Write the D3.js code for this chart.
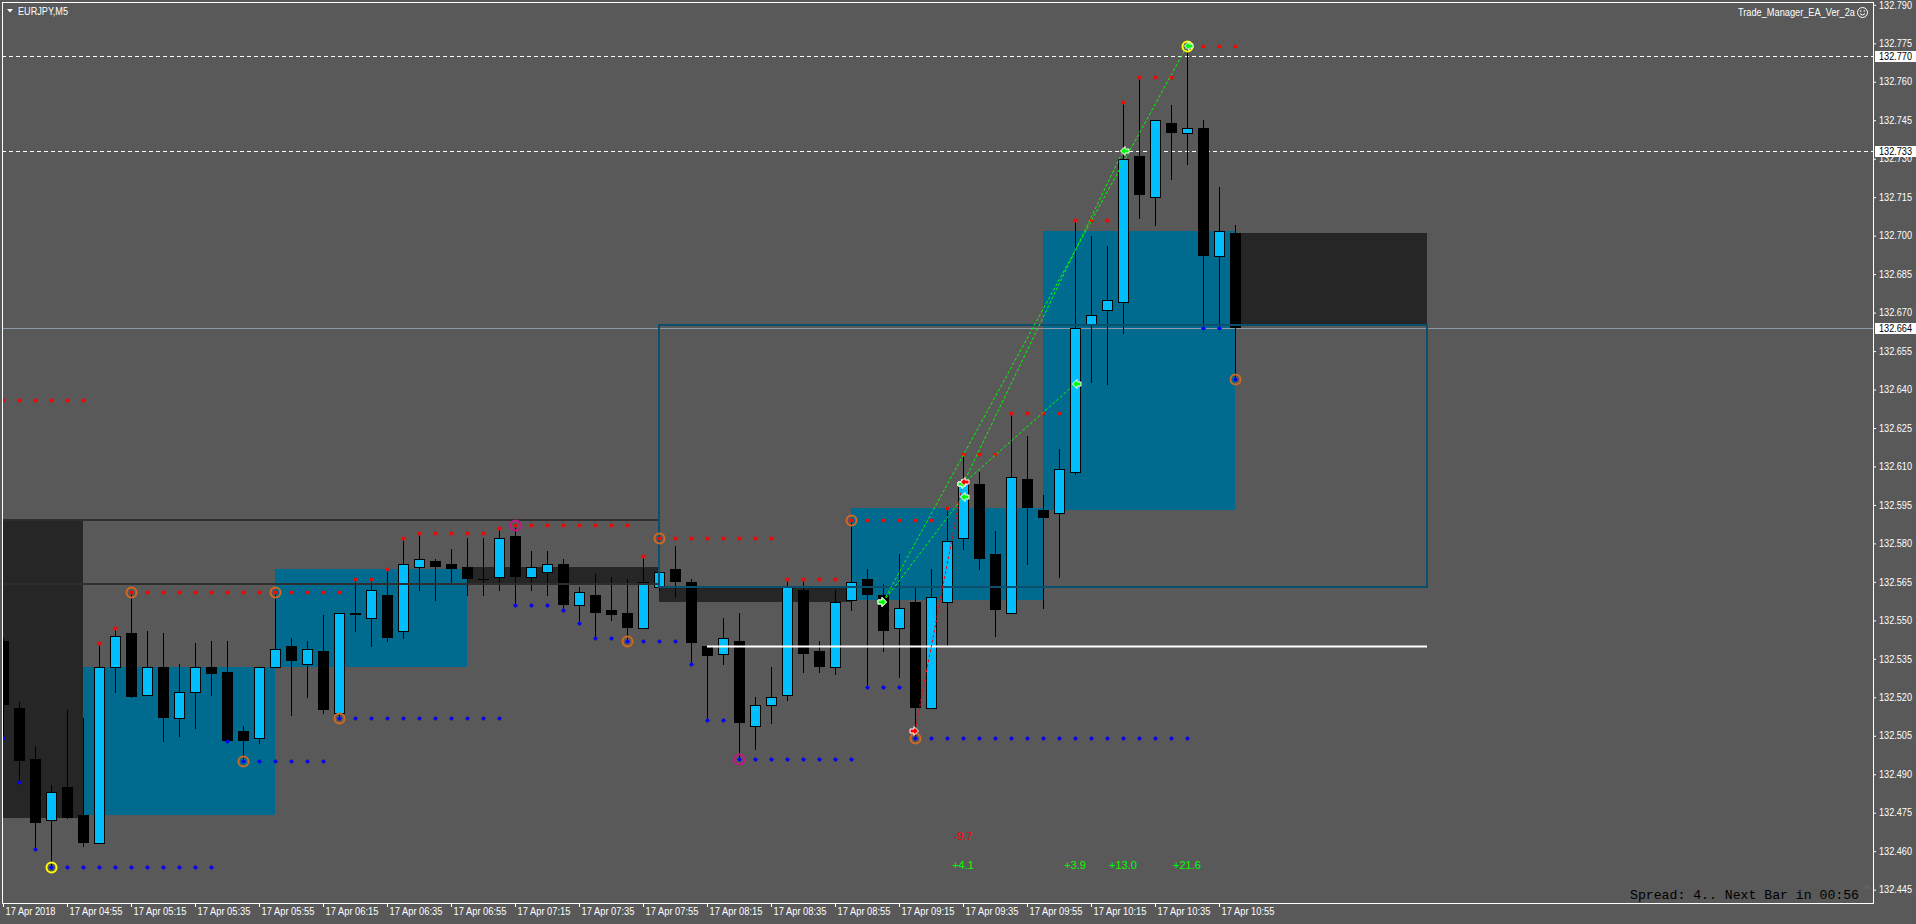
<!DOCTYPE html>
<meta charset="utf-8">
<script src="https://cdn.jsdelivr.net/npm/d3@7"></script>
<style>
  body { margin: 0; background: #595959; overflow: hidden; }
  text { font-family: "Liberation Sans", Arial, sans-serif; }
</style>
<body>
<script>

// ---- candles, EURJPY M5, bar 0 = 17 Apr 04:35 ----
var open  = [132.542,132.516,132.496,132.472,132.485,132.474,132.463,132.532,132.545,132.521,
             132.532,132.512,132.522,132.532,132.530,132.507,132.504,132.532,132.540,132.533,
             132.538,132.514,132.553,132.551,132.560,132.546,132.571,132.573,132.572,132.571,
             132.566,132.567,132.583,132.567,132.569,132.572,132.556,132.560,132.554,132.553,
             132.547,132.563,132.570,132.565,132.540,132.537,132.542,132.509,132.517,132.521,
             132.562,132.538,132.532,132.558,132.566,132.560,132.547,132.557,132.516,132.557,
             132.582,132.603,132.576,132.553,132.605,132.593,132.592,132.608,132.665,132.671,
             132.674,132.731,132.715,132.744,132.740,132.742,132.692,132.701];
var high  = [132.543,132.518,132.501,132.486,132.515,132.512,132.541,132.547,132.561,132.546,
             132.545,132.533,132.541,132.542,132.542,132.509,132.532,132.561,132.543,132.542,
             132.552,132.553,132.566,132.566,132.570,132.582,132.584,132.574,132.578,132.582,
             132.582,132.586,132.587,132.577,132.577,132.574,132.563,132.568,132.567,132.566,
             132.575,132.571,132.579,132.566,132.540,132.551,132.553,132.520,132.532,132.566,
             132.566,132.542,132.562,132.589,132.570,132.564,132.576,132.563,132.570,132.594,
             132.615,132.608,132.585,132.631,132.622,132.599,132.617,132.706,132.700,132.696,
             132.752,132.762,132.745,132.751,132.774,132.745,132.719,132.704];
var low   = [132.505,132.487,132.461,132.454,132.473,132.462,132.463,132.522,132.520,132.521,
             132.503,132.505,132.508,132.521,132.503,132.495,132.502,132.532,132.513,132.520,
             132.514,132.512,132.546,132.540,132.542,132.543,132.562,132.558,132.565,132.560,
             132.560,132.562,132.556,132.562,132.560,132.554,132.549,132.543,132.550,132.542,
             132.547,132.562,132.559,132.533,132.511,132.533,132.496,132.500,132.510,132.519,
             132.530,132.530,132.529,132.554,132.524,132.538,132.528,132.504,132.516,132.540,
             132.578,132.570,132.544,132.553,132.572,132.555,132.567,132.607,132.643,132.642,
             132.662,132.707,132.704,132.722,132.728,132.665,132.665,132.645];
var close = [132.517,132.495,132.471,132.483,132.473,132.463,132.532,132.544,132.520,132.532,
             132.512,132.522,132.532,132.529,132.503,132.503,132.532,132.539,132.534,132.539,
             132.515,132.553,132.552,132.562,132.543,132.572,132.574,132.571,132.570,132.566,
             132.566,132.582,132.567,132.571,132.572,132.556,132.561,132.553,132.552,132.547,
             132.565,132.569,132.565,132.541,132.536,132.543,132.510,132.517,132.520,132.563,
             132.537,132.532,132.557,132.565,132.560,132.546,132.555,132.516,132.559,132.581,
             132.604,132.574,132.554,132.606,132.594,132.590,132.609,132.664,132.669,132.675,
             132.730,132.716,132.745,132.740,132.742,132.692,132.702,132.664];

// axis labels
var timeTickBars = [0,4,8,12,16,20,24,28,32,36,40,44,48,52,56,60,64,68,72,76];
var timeTickLabels = ["17 Apr 2018","17 Apr 04:55","17 Apr 05:15","17 Apr 05:35","17 Apr 05:55",
  "17 Apr 06:15","17 Apr 06:35","17 Apr 06:55","17 Apr 07:15","17 Apr 07:35","17 Apr 07:55",
  "17 Apr 08:15","17 Apr 08:35","17 Apr 08:55","17 Apr 09:15","17 Apr 09:35","17 Apr 09:55",
  "17 Apr 10:15","17 Apr 10:35","17 Apr 10:55"];
var priceTicks = [132.445,132.460,132.475,132.490,132.505,132.520,132.535,132.550,132.565,132.580,
  132.595,132.610,132.625,132.640,132.655,132.670,132.685,132.700,132.715,132.730,132.745,
  132.760,132.775,132.790];

// fractal level dots: [first bar, last bar, price]
var resistRows = [[0,5,132.636],[6,6,132.541],[7,7,132.547],[8,21,132.561],[22,23,132.566],
  [24,24,132.570],[25,25,132.582],[26,30,132.584],[31,31,132.586],[32,39,132.587],[40,40,132.575],
  [41,48,132.582],[49,52,132.566],[53,58,132.589],[59,59,132.594],[60,62,132.615],[63,66,132.631],
  [67,69,132.706],[70,70,132.752],[71,73,132.762],[74,77,132.774]];
var supportRows = [[0,0,132.504],[1,1,132.487],[2,2,132.461],[3,13,132.454],[14,14,132.503],
  [15,20,132.495],[21,31,132.512],[32,34,132.556],[35,35,132.554],[36,36,132.549],[37,38,132.543],
  [39,42,132.542],[43,43,132.533],[44,45,132.511],[46,53,132.496],[54,56,132.524],[57,74,132.504],
  [75,76,132.664],[77,77,132.644]];

// circled fractals: [bar, price]
var orangeMarks  = [[8,132.561],[17,132.561],[15,132.495],[21,132.512],[39,132.542],[41,132.582],
                    [53,132.589],[57,132.504],[77,132.644]];
var magentaMarks = [[32,132.587],[46,132.496]];
var yellowMarks  = [[3,132.454],[74,132.774]];

// zones: [bar from, bar to, top price, bottom price]
var tealZones  = [[5,17,132.532,132.474],[17,29,132.570,132.532],[53,65,132.594,132.558],[65,77,132.702,132.593]];
var darkZones  = [[-2,5,132.589,132.473],[29,41,132.571,132.564],[41,53,132.563,132.557],[77,89,132.701,132.665]];
var darkFrames = [[-2,41,132.589,132.564]];
var tealFrames = [[41,89,132.665,132.563]];
var whiteLevel = [44,89,132.540];
var dashedLevels = [132.770,132.733];
var bidPrice = 132.664;

// trades
var tradeType    = ["buy","buy","buy","buy","sell"];
var entryBar     = [55,55,60,60,57];
var entryPrice   = [132.557,132.557,132.603,132.603,132.507];
var exitBar      = [74,60,70,67,60];
var exitPrice    = [132.774,132.598,132.733,132.642,132.604];
var tradeProfit  = [21.6,4.1,13.0,3.9,-9.7];

// ---- canvas ----
var W = 1916, H = 924;
var plot = {left: 2, top: 2, right: 1873, bottom: 903};

var svg = d3.select("body").append("svg")
    .attr("width", W).attr("height", H)
    .style("display", "block");

svg.append("rect").attr("width", W).attr("height", H).attr("fill", "#595959");

svg.append("clipPath").attr("id", "plotclip")
  .append("rect")
    .attr("x", plot.left).attr("y", plot.top)
    .attr("width", plot.right - plot.left).attr("height", plot.bottom - plot.top);

var x = d3.scaleLinear().domain([0, 77]).range([3.3, 1235.3]);
var y = d3.scaleLinear().domain([132.4398, 132.7911]).range([plot.bottom, plot.top]);
var cx = function(i) { return Math.round(x(i)); };
var py = function(p) { return Math.round(y(p)); };

var g = svg.append("g").attr("clip-path", "url(#plotclip)");

// filled zones
function zones(data, color) {
  g.selectAll(null).data(data).enter().append("rect")
    .attr("x", function(d) { return cx(d[0]); })
    .attr("y", function(d) { return py(d[2]); })
    .attr("width", function(d) { return cx(d[1]) - cx(d[0]); })
    .attr("height", function(d) { return py(d[3]) - py(d[2]); })
    .attr("fill", color);
}
zones(tealZones, "#006a8f");
zones(darkZones, "#262626");

// dashed levels and bid line
g.selectAll(null).data(dashedLevels).enter().append("line")
  .attr("x1", plot.left).attr("x2", plot.right)
  .attr("y1", function(d) { return py(d) + 0.5; })
  .attr("y2", function(d) { return py(d) + 0.5; })
  .attr("stroke", "#fff").attr("stroke-dasharray", "4,3");

g.append("line")
  .attr("x1", plot.left).attr("x2", plot.right)
  .attr("y1", py(bidPrice) + 0.5).attr("y2", py(bidPrice) + 0.5)
  .attr("stroke", "#8d9aa8");

// candles
var bars = d3.range(open.length);
var candle = g.selectAll(".candle").data(bars).enter().append("g").attr("class", "candle");

candle.append("line")
  .attr("x1", function(i) { return cx(i) + 0.5; })
  .attr("x2", function(i) { return cx(i) + 0.5; })
  .attr("y1", function(i) { return py(high[i]); })
  .attr("y2", function(i) { return py(low[i]) + 1; })
  .attr("stroke", "#000");

candle.append("rect")
  .attr("x", function(i) { return close[i] > open[i] ? cx(i) - 4.5 : cx(i) - 5; })
  .attr("y", function(i) { return py(Math.max(open[i], close[i])) + (close[i] > open[i] ? 0.5 : 0); })
  .attr("width", function(i) { return close[i] > open[i] ? 10 : 11; })
  .attr("height", function(i) {
    return Math.max(1, py(Math.min(open[i], close[i])) - py(Math.max(open[i], close[i])));
  })
  .attr("fill", function(i) { return close[i] > open[i] ? "#00bfff" : "#000"; })
  .attr("stroke", function(i) { return close[i] > open[i] ? "#000" : "none"; });

// frames (drawn over candles like the terminal does)
function frames(data, color) {
  g.selectAll(null).data(data).enter().append("rect")
    .attr("x", function(d) { return cx(d[0]); })
    .attr("y", function(d) { return py(d[2]); })
    .attr("width", function(d) { return cx(d[1]) - cx(d[0]); })
    .attr("height", function(d) { return py(d[3]) - py(d[2]); })
    .attr("fill", "none").attr("stroke", color).attr("stroke-width", 2);
}
frames(darkFrames, "#2e2e2e");
frames(tealFrames, "#0b4f6c");

g.append("line")
  .attr("x1", cx(whiteLevel[0])).attr("x2", cx(whiteLevel[1]))
  .attr("y1", py(whiteLevel[2]) + 0.5).attr("y2", py(whiteLevel[2]) + 0.5)
  .attr("stroke", "#fff").attr("stroke-width", 2);

// level dots
function dotRows(rows, color) {
  var pts = [];
  rows.forEach(function(r) { for (var b = r[0]; b <= r[1]; b++) pts.push([b, r[2]]); });
  g.selectAll(null).data(pts).enter().append("path")
    .attr("transform", function(d) { return "translate(" + (cx(d[0]) + 0.5) + "," + (py(d[1]) + 0.5) + ")"; })
    .attr("d", "M0,-2.5L2.5,0L0,2.5L-2.5,0Z")
    .attr("fill", color);
}
dotRows(resistRows, "#ff0000");
dotRows(supportRows, "#0000ff");

// fractal circles
function rings(data, color) {
  g.selectAll(null).data(data).enter().append("circle")
    .attr("cx", function(d) { return cx(d[0]) + 0.5; })
    .attr("cy", function(d) { return py(d[1]) + 0.5; })
    .attr("r", 5).attr("fill", "none").attr("stroke", color).attr("stroke-width", 2);
}
rings(orangeMarks, "#d2691e");
rings(magentaMarks, "#c71585");
rings(yellowMarks, "#ffff00");

// trade lines
var trades = d3.range(tradeType.length);
g.selectAll(null).data(trades).enter().append("line")
  .attr("x1", function(t) { return cx(entryBar[t]); })
  .attr("y1", function(t) { return py(entryPrice[t]); })
  .attr("x2", function(t) { return cx(exitBar[t]); })
  .attr("y2", function(t) { return py(exitPrice[t]); })
  .attr("stroke", function(t) { return tradeType[t] == "buy" ? "#00ff00" : "#ff0000"; })
  .attr("stroke-dasharray", "3,2");

var arrowRight = "M-4,-2L0,-2L0,-4.5L4.5,0L0,4.5L0,2L-4,2Z";
var arrowLeft  = "M4,-2L0,-2L0,-4.5L-4.5,0L0,4.5L0,2L4,2Z";
function tradeColor(t) { return tradeType[t] == "buy" ? "#00ff00" : "#ff0000"; }

g.selectAll(null).data(trades).enter().append("path")
  .attr("transform", function(t) { return "translate(" + (cx(entryBar[t]) - 1) + "," + py(entryPrice[t]) + ")"; })
  .attr("d", arrowRight)
  .attr("fill", tradeColor).attr("stroke", "#fff").attr("stroke-width", 1);

g.selectAll(null).data(trades).enter().append("path")
  .attr("transform", function(t) { return "translate(" + (cx(exitBar[t]) + 2) + "," + py(exitPrice[t]) + ")"; })
  .attr("d", arrowLeft)
  .attr("fill", tradeColor).attr("stroke", "#fff").attr("stroke-width", 1);

// profit labels
g.selectAll(null).data(trades).enter().append("text")
  .attr("x", function(t) { return cx(exitBar[t]); })
  .attr("y", function(t) { return tradeProfit[t] < 0 ? 840 : 869; })
  .attr("text-anchor", "middle")
  .style("font-size", "11px")
  .attr("fill", function(t) { return tradeProfit[t] < 0 ? "#ff0000" : "#00ff00"; })
  .text(function(t) { return (tradeProfit[t] > 0 ? "+" : "") + tradeProfit[t].toFixed(1); });

// ---- axes ----
var yAxis = svg.append("g")
    .attr("transform", "translate(" + plot.right + ",0)")
    .call(d3.axisRight(y).tickValues(priceTicks).tickSize(3).tickPadding(3)
      .tickFormat(d3.format(".3f")));
yAxis.select(".domain").remove();
yAxis.selectAll("line").attr("stroke", "#fff");
yAxis.selectAll("text")
    .attr("fill", "#fff").style("font-size", "10px")
    .attr("textLength", 33).attr("lengthAdjust", "spacingAndGlyphs");

var xAxis = svg.append("g")
    .attr("transform", "translate(0," + plot.bottom + ")")
    .call(d3.axisBottom(x).tickValues(timeTickBars).tickSize(4)
      .tickFormat(function(d, i) { return timeTickLabels[i]; }));
xAxis.select(".domain").remove();
xAxis.selectAll(".tick").attr("transform", function(d) { return "translate(" + (cx(d) + 0.5) + ",0)"; });
xAxis.selectAll("line").attr("stroke", "#fff");
xAxis.selectAll("text")
    .attr("fill", "#fff").style("font-size", "10px")
    .attr("text-anchor", "start").attr("x", 2).attr("y", 5)
    .attr("textLength", function(d, i) { return i == 0 ? 50 : 53; })
    .attr("lengthAdjust", "spacingAndGlyphs");

// highlighted price labels on the scale
var tagPrices = dashedLevels.concat([bidPrice]);
var tags = svg.selectAll(".tag").data(tagPrices).enter().append("g").attr("class", "tag")
    .attr("transform", function(d) { return "translate(" + (plot.right + 2) + "," + py(d) + ")"; });
tags.append("rect").attr("x", 0).attr("y", -5).attr("width", 41).attr("height", 11).attr("fill", "#fff");
tags.append("text").attr("x", 4).attr("y", 4)
    .attr("fill", "#000").style("font-size", "10px")
    .attr("textLength", 33).attr("lengthAdjust", "spacingAndGlyphs")
    .text(function(d) { return d.toFixed(3); });

// chart frame
svg.append("rect")
  .attr("x", plot.left + 0.5).attr("y", plot.top + 0.5)
  .attr("width", plot.right - plot.left).attr("height", plot.bottom - plot.top)
  .attr("fill", "none").attr("stroke", "#fff");

// header texts
svg.append("path").attr("d", "M7,9L13,9L10,12.5Z").attr("fill", "#fff");
svg.append("text").attr("x", 18).attr("y", 15)
  .attr("fill", "#fff").style("font-size", "10px")
  .attr("textLength", 50).attr("lengthAdjust", "spacingAndGlyphs")
  .text("EURJPY,M5");

svg.append("text").attr("x", 1738).attr("y", 16)
  .attr("fill", "#fff").style("font-size", "10px")
  .attr("textLength", 117).attr("lengthAdjust", "spacingAndGlyphs")
  .text("Trade_Manager_EA_Ver_2a");
var smile = svg.append("g").attr("transform", "translate(1862.5,12.5)");
smile.append("circle").attr("r", 5).attr("fill", "none").attr("stroke", "#fff");
smile.append("circle").attr("cx", -1.8).attr("cy", -1.5).attr("r", 0.8).attr("fill", "#fff");
smile.append("circle").attr("cx", 1.8).attr("cy", -1.5).attr("r", 0.8).attr("fill", "#fff");
smile.append("path").attr("d", "M-2.5,1.2Q0,4 2.5,1.2").attr("fill", "none").attr("stroke", "#fff");

// status line
svg.append("text").attr("x", 1630).attr("y", 899)
  .style("font-family", "'Liberation Mono', 'Courier New', monospace").style("font-size", "13.3px")
  .attr("fill", "#000")
  .attr("textLength", 229).attr("lengthAdjust", "spacingAndGlyphs")
  .text("Spread: 4.. Next Bar in 00:56");
svg.append("text").attr("x", 1867).attr("y", 889).attr("text-anchor", "middle")
  .style("font-family", "'DejaVu Sans'").style("font-size", "8px")
  .attr("fill", "#6e6e6e").text("\u2620");

</script>
</body>
